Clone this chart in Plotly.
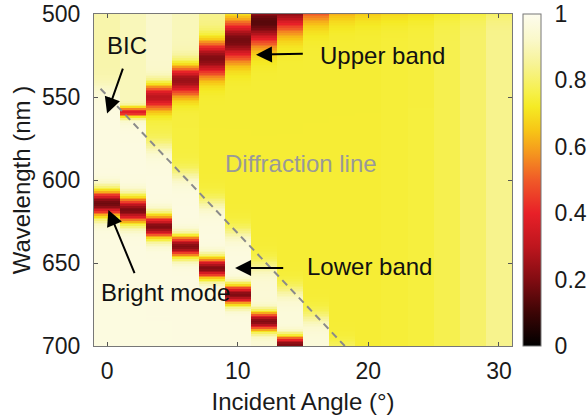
import numpy as np
import plotly.graph_objects as go

nan = np.nan

# ---- data ----
angles = [0, 2, 4, 6, 8, 10, 12, 14, 16, 18, 20, 22, 24, 26, 28, 30]
wavelengths = list(range(500, 701, 1))

# upper band (resonance centre / width / minimum transmittance per angle)
upper_center = [nan, 559, 550, 540, 527, 516, 505, 496, 489, 485, 483, 482, 481, 480, 480, 480]
upper_sigma = [nan, 2.2, 5.5, 6.5, 7.5, 8.5, 9.5, 10, 10, 10, 10, 10, 10, 10, 10, 10]
upper_min = [nan, 0.38, 0.3, 0.24, 0.2, 0.18, 0.14, 0.18, 0.3, 0.36, 0.38, 0.4, 0.42, 0.43, 0.45, 0.5]

# lower band
lower_center = [614, 618, 628, 640, 653, 669, 685, 699, nan, nan, nan, nan, nan, nan, nan, nan]
lower_sigma = [5.5, 5.5, 5, 4.5, 4.5, 4.2, 4.0, 3.8, nan, nan, nan, nan, nan, nan, nan, nan]
lower_min = [0.17, 0.19, 0.2, 0.2, 0.2, 0.2, 0.2, 0.2, nan, nan, nan, nan, nan, nan, nan, nan]

# Rayleigh (diffraction) wavelength per angle and background levels
ra_wavelength = [545, 563, 580, 597, 614, 632, 652, 667, 683, 702, 720, 740, 760, 780, 800, 820]
bg_top = [0.88, 0.9, 0.93, 0.9, 0.84, 0.8, 0.76, 0.75, 0.75, 0.75, 0.75, 0.75, 0.76, 0.77, 0.8, 0.84]
bg_mid = [0.88, 0.9, 0.76, 0.75, 0.74, 0.74, 0.74, 0.74, 0.74, 0.74, 0.74, 0.745, 0.75, 0.77, 0.8, 0.84]
bg_low = [0.97, 0.97, 0.97, 0.97, 0.97, 0.97, 0.95, 0.96, 0.96, 0.9, 0.9, 0.9, 0.9, 0.9, 0.9, 0.9]

# diffraction line end points
diff_angle = [-0.5, 18.2]
diff_wavelength = [545, 700]

# ---- build the transmittance map ----
w = np.array(wavelengths, dtype=float)
z = np.zeros((len(w), len(angles)))
for j in range(len(angles)):
    uc = upper_center[j]
    if np.isnan(uc):
        above = np.full_like(w, bg_top[j])
    else:
        s = 1 / (1 + np.exp((w - uc) / 3.0))
        above = bg_mid[j] + (bg_top[j] - bg_mid[j]) * s
    sra = 1 / (1 + np.exp((w - ra_wavelength[j]) / 3.0))
    col = bg_low[j] + (above - bg_low[j]) * sra
    if not np.isnan(uc):
        g = np.exp(-((w - uc) ** 2) / (2 * upper_sigma[j] ** 2))
        col = col - (col - upper_min[j]) * g
    lc = lower_center[j]
    if not np.isnan(lc):
        g = np.exp(-((w - lc) ** 2) / (2 * lower_sigma[j] ** 2))
        col = col - (col - lower_min[j]) * g
    z[:, j] = col

colorscale = [
    [0.0, "rgb(0,0,0)"],
    [0.1, "rgb(60,5,5)"],
    [0.2, "rgb(130,12,18)"],
    [0.3, "rgb(190,22,30)"],
    [0.4, "rgb(232,32,40)"],
    [0.5, "rgb(240,90,40)"],
    [0.58, "rgb(245,150,30)"],
    [0.65, "rgb(247,198,22)"],
    [0.72, "rgb(245,234,36)"],
    [0.76, "rgb(246,240,70)"],
    [0.85, "rgb(247,243,150)"],
    [0.92, "rgb(250,248,200)"],
    [1.0, "rgb(253,252,238)"],
]

FONT = "Liberation Sans, Arial, sans-serif"
TICK = 23
TXT = 24
DARK = "#1a1a1a"

fig = go.Figure()
fig.add_trace(go.Heatmap(
    x=angles, y=wavelengths, z=z, zmin=0, zmax=1,
    colorscale=colorscale,
    colorbar=dict(
        x=1.026, xanchor="left", xpad=0, y=0.5, yanchor="middle", len=1, ypad=0,
        thickness=18, outlinecolor="#777", outlinewidth=1,
        tickvals=[0, 0.2, 0.4, 0.6, 0.8, 1], ticktext=["0", "0.2", "0.4", "0.6", "0.8", "1"],
        ticks="outside", ticklen=9, tickcolor="rgba(0,0,0,0)",
        tickfont=dict(family=FONT, size=TICK, color=DARK),
    ),
    hoverinfo="skip",
))
fig.add_trace(go.Scatter(
    x=diff_angle, y=diff_wavelength, mode="lines",
    line=dict(color="#8a8a8a", width=2, dash="7px,5px"),
    showlegend=False, hoverinfo="skip",
))

annotations = []
def label(text, x, y, color="#111"):
    annotations.append(dict(x=x, y=y, xref="x", yref="y", text=text, showarrow=False,
                            font=dict(family=FONT, size=TXT, color=color),
                            xanchor="center", yanchor="middle"))

def arrow(x, y, ax, ay):
    annotations.append(dict(x=x, y=y, ax=ax, ay=ay, xref="x", yref="y", axref="x", ayref="y",
                            text="", showarrow=True, arrowhead=2, arrowsize=1.6,
                            arrowwidth=2, arrowcolor="#000"))

label("BIC", 1.55, 519)
arrow(0.0, 560, 1.25, 532)
label("Upper band", 21.1, 525)
arrow(11.4, 524.5, 15.1, 524)
label("Lower band", 20.1, 652)
arrow(9.8, 653, 13.6, 653)
label("Bright mode", 4.45, 668)
arrow(0.1, 618, 2.15, 657)
label("Diffraction line", 14.85, 590, color="#999")

fig.update_layout(
    width=587, height=420,
    margin=dict(l=94, r=75, t=14, b=74, autoexpand=False),
    paper_bgcolor="white", plot_bgcolor="white",
    annotations=annotations,
    showlegend=False,
    font=dict(family=FONT, size=TICK, color=DARK),
)
fig.update_xaxes(
    range=[-1, 31], tickvals=[0, 10, 20, 30], ticks="inside", ticklen=4, tickcolor="#555",
    showline=True, linecolor="#777", linewidth=1, mirror="ticks", showgrid=False, zeroline=False,
    tickfont=dict(family=FONT, size=TICK, color=DARK), ticklabelstandoff=4,
    title=dict(text="Incident Angle (°)", font=dict(family=FONT, size=TXT, color=DARK), standoff=10),
)
fig.update_yaxes(
    range=[700, 500], tickvals=[500, 550, 600, 650, 700], ticks="inside", ticklen=4, tickcolor="#555",
    showline=True, linecolor="#777", linewidth=1, mirror="ticks", showgrid=False, zeroline=False,
    tickfont=dict(family=FONT, size=TICK, color=DARK), ticklabelstandoff=8,
    title=dict(text="Wavelength (nm )", font=dict(family=FONT, size=TXT, color=DARK), standoff=4),
)

fig.write_html("out.html")
